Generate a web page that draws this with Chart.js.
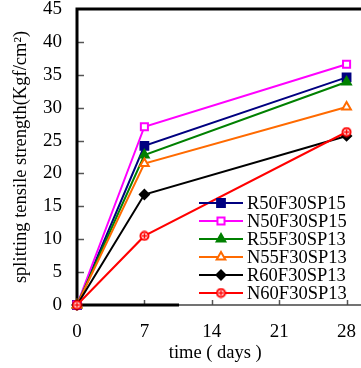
<!DOCTYPE html>
<html>
<head>
<meta charset="utf-8">
<script src="https://cdn.jsdelivr.net/npm/chart.js@4/dist/chart.umd.min.js"></script>
<style>
  html, body { margin: 0; padding: 0; background: #fff; }
</style>
</head>
<body>
<canvas id="canvas" width="361" height="368"></canvas>
<script>
// test ages (days)
const days = [0, 7, 28];
// ticks shown on the x axis
const xTicks = [0, 7, 14, 21, 28];
// series names
const names = ['R50F30SP15', 'N50F30SP15', 'R55F30SP13', 'N55F30SP13', 'R60F30SP13', 'N60F30SP13'];
// splitting tensile strength (Kgf/cm2)
const r50 = [0, 24.2, 34.6];
const n50 = [0, 27.1, 36.6];
const r55 = [0, 22.8, 33.9];
const n55 = [0, 21.5, 30.1];
const r60 = [0, 16.8, 25.7];
const n60 = [0, 10.5, 26.3];

const values = [r50, n50, r55, n55, r60, n60];
const colors = ['#000080', '#ff00ff', '#008000', '#ff6a00', '#000000', '#ff0000'];
const fills = ['#000080', '#ffffff', '#008000', '#ffffff', '#000000', '#ffffff'];

// red marker: circle with a small cross inside
const ring = document.createElement('canvas');
ring.width = 11; ring.height = 11;
{
  const c = ring.getContext('2d');
  c.strokeStyle = '#ff0000';
  c.fillStyle = '#fff';
  c.lineWidth = 2;
  c.beginPath(); c.arc(5.5, 5.5, 4, 0, Math.PI * 2); c.fill(); c.stroke();
  c.lineWidth = 1.5;
  c.beginPath(); c.moveTo(5.5, 3); c.lineTo(5.5, 8); c.moveTo(3, 5.5); c.lineTo(8, 5.5); c.stroke();
}
const styles = ['rect', 'rect', 'triangle', 'triangle', 'rectRot', ring];
const sizes = [5.5, 5, 5, 5, 4.5, 5];

const font = { family: '"Liberation Serif", "Times New Roman", serif', size: 19 };
const titleFont = { family: '"Liberation Serif", "Times New Roman", serif', size: 18.5 };

const datasets = names.map((name, i) => ({
  label: name,
  data: days.map((d, j) => ({ x: d, y: values[i][j] })),
  borderColor: colors[i],
  backgroundColor: fills[i],
  pointBackgroundColor: fills[i],
  pointBorderColor: colors[i],
  pointStyle: styles[i],
  pointRadius: sizes[i],
  pointBorderWidth: 2,
  borderWidth: 2,
  tension: 0,
  clip: false,
  order: names.length - i
}));

// frame, inward ticks and the legend in the plot
const frame = {
  id: 'frame',
  beforeDatasetsDraw(chart) {
    const { ctx, chartArea: a, scales: { x, y } } = chart;
    ctx.save();
    ctx.strokeStyle = '#555';
    ctx.lineWidth = 1.5;
    for (let v = 5; v < 45; v += 5) {
      const py = Math.round(y.getPixelForValue(v)) + 0.5;
      ctx.beginPath(); ctx.moveTo(a.left, py); ctx.lineTo(a.left + 7, py); ctx.stroke();
    }
    for (const v of xTicks.slice(1)) {
      const px = Math.round(x.getPixelForValue(v)) + 0.5;
      ctx.beginPath(); ctx.moveTo(px, a.bottom); ctx.lineTo(px, a.bottom - 5); ctx.stroke();
    }
    // thin part of the bottom axis
    ctx.strokeStyle = '#444';
    ctx.lineWidth = 1.5;
    ctx.beginPath(); ctx.moveTo(a.left, a.bottom); ctx.lineTo(chart.width, a.bottom); ctx.stroke();
    // heavy lines
    ctx.strokeStyle = '#000';
    ctx.lineWidth = 3;
    ctx.beginPath();
    ctx.moveTo(chart.width, a.top);
    ctx.lineTo(a.left, a.top);
    ctx.lineTo(a.left, a.bottom);
    ctx.lineTo(x.getPixelForValue(10.6), a.bottom);
    ctx.stroke();
    ctx.restore();
  },
  afterDraw(chart) {
    const { ctx } = chart;
    ctx.save();
    ctx.font = '18.5px ' + font.family;
    ctx.textBaseline = 'middle';
    chart.data.datasets.forEach((ds, i) => {
      const yy = 203 + i * 18;
      ctx.strokeStyle = ds.borderColor;
      ctx.lineWidth = 2;
      ctx.beginPath(); ctx.moveTo(199, yy); ctx.lineTo(243, yy); ctx.stroke();
      ctx.fillStyle = ds.pointBackgroundColor;
      Chart.helpers.drawPoint(ctx, {
        pointStyle: ds.pointStyle, rotation: 0, radius: ds.pointRadius, borderWidth: 2
      }, 221, yy);
      ctx.fillStyle = '#000';
      ctx.fillText(ds.label, 247, yy + 1);
    });
    ctx.restore();
  }
};

new Chart(document.getElementById('canvas'), {
  type: 'line',
  data: { datasets },
  options: {
    responsive: false,
    animation: false,
    layout: { padding: { top: 9, right: 0, left: 0, bottom: 0 } },
    plugins: { legend: { display: false }, tooltip: { enabled: false } },
    scales: {
      x: {
        type: 'linear',
        min: 0,
        max: 28.72,
        afterBuildTicks: s => { s.ticks = xTicks.map(v => ({ value: v })); },
        afterFit: s => { s.height = 63; s.paddingLeft = 0; s.paddingRight = 0; },
        grid: { display: false, drawTicks: false },
        border: { display: false },
        ticks: { color: '#000', font, padding: 16, maxRotation: 0 },
        title: { display: true, text: 'time ( days )', color: '#000', font: titleFont, padding: { top: 0, bottom: 4 } }
      },
      y: {
        min: 0,
        max: 45,
        afterFit: s => { s.width = 77; s.paddingTop = 0; s.paddingBottom = 0; },
        grid: { display: false, drawTicks: false },
        border: { display: false },
        ticks: { color: '#000', font, padding: 15, stepSize: 5 },
        title: { display: true, text: 'splitting tensile strength(Kgf/cm²)', color: '#000', font: titleFont, padding: { top: 10, bottom: 0 } }
      }
    }
  },
  plugins: [frame]
});
</script>
</body>
</html>
